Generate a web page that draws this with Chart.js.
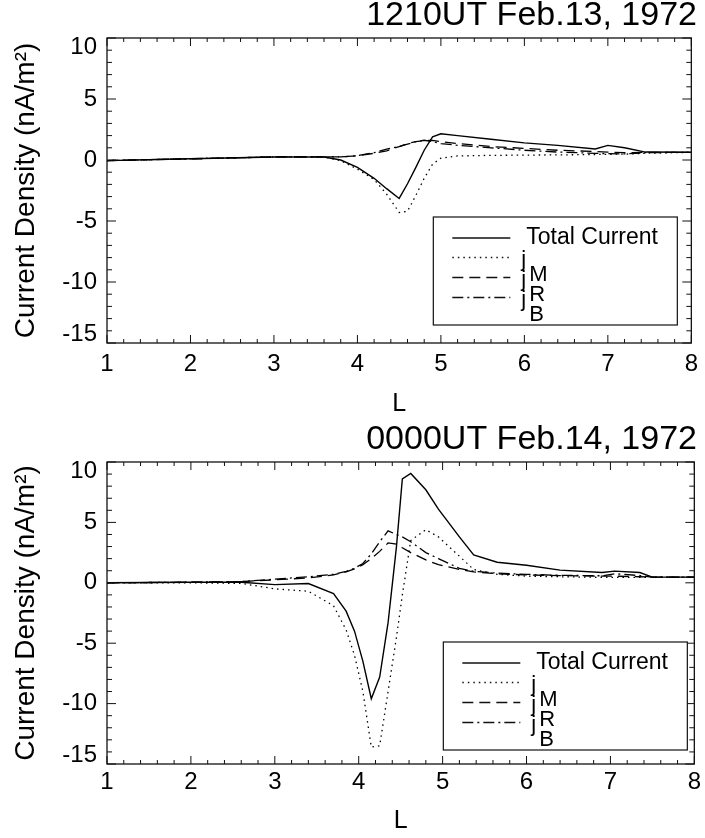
<!DOCTYPE html>
<html>
<head>
<meta charset="utf-8">
<script src="https://cdn.jsdelivr.net/npm/chart.js@4.4.0/dist/chart.umd.min.js"></script>
<style>
body { margin: 0; background: #fff; }
.panel { position: absolute; left: 0; width: 705px; }
#top { top: 0; height: 420px; }
#bottom { top: 420px; height: 418px; }
</style>
</head>
<body>
<div class="panel" id="top"><canvas id="c1"></canvas></div>
<div class="panel" id="bottom"><canvas id="c2"></canvas></div>
<script>
const FONT = "'Liberation Sans', Arial, Helvetica, sans-serif";

const xTicks = [1, 2, 3, 4, 5, 6, 7, 8];
const yTicks = [10, 5, 0, -5, -10, -15];
const seriesLabels = ['Total Current', 'jM', 'jR', 'jB'];

// 1210UT Feb.13, 1972
const topL     = [1, 2, 3, 3.6, 3.8, 4.0, 4.2, 4.35, 4.5, 4.6, 4.7, 4.8, 4.9, 5.0, 5.2, 5.6, 6.0, 6.4, 6.85, 7.0, 7.2, 7.45, 8];
const topTotal = [-0.05, 0.1, 0.25, 0.25, 0.0, -0.6, -1.5, -2.35, -3.15, -1.95, -0.6, 0.8, 1.9, 2.15, 2.0, 1.7, 1.4, 1.2, 0.9, 1.2, 1.0, 0.65, 0.63];
const topJM    = [-0.05, 0.1, 0.25, 0.25, -0.05, -0.75, -1.6, -2.8, -4.3, -4.2, -2.9, -1.5, -0.35, 0.15, 0.33, 0.38, 0.4, 0.42, 0.45, 0.47, 0.48, 0.55, 0.63];
const topJR    = [-0.05, 0.1, 0.25, 0.25, 0.25, 0.35, 0.55, 0.75, 1.1, 1.35, 1.5, 1.6, 1.6, 1.5, 1.35, 1.1, 0.95, 0.8, 0.7, 0.65, 0.6, 0.62, 0.63];
const topJB    = [-0.05, 0.1, 0.25, 0.25, 0.25, 0.35, 0.6, 0.9, 1.1, 1.3, 1.5, 1.62, 1.5, 1.35, 1.2, 1.0, 0.8, 0.65, 0.55, 0.52, 0.5, 0.6, 0.63];

// 0000UT Feb.14, 1972
const botL     = [1, 2, 2.6, 3.0, 3.4, 3.7, 3.85, 3.95, 4.05, 4.15, 4.25, 4.35, 4.45, 4.52, 4.62, 4.8, 4.95, 5.2, 5.37, 5.65, 6.0, 6.4, 6.9, 7.05, 7.35, 7.5, 8];
const botTotal = [0, 0.05, 0.05, -0.15, -0.06, -0.9, -2.35, -4.0, -6.5, -9.6, -7.8, -3.3, 3.0, 8.6, 9.05, 7.7, 6.1, 3.8, 2.3, 1.7, 1.45, 1.05, 0.85, 0.97, 0.85, 0.47, 0.47];
const botJM    = [0, 0, -0.05, -0.5, -0.7, -1.9, -3.9, -6.0, -9.0, -13.6, -13.5, -9.0, -4.5, -1.0, 3.5, 4.4, 3.8, 2.2, 1.1, 0.7, 0.55, 0.5, 0.45, 0.45, 0.45, 0.47, 0.47];
const botJR    = [0, 0.05, 0.1, 0.25, 0.4, 0.65, 0.9, 1.15, 1.5, 2.0, 2.6, 3.3, 3.2, 2.9, 2.5, 1.9, 1.5, 1.1, 0.9, 0.75, 0.65, 0.6, 0.55, 0.55, 0.5, 0.47, 0.47];
const botJB    = [0, 0.05, 0.1, 0.3, 0.5, 0.7, 0.95, 1.2, 1.6, 2.4, 3.4, 4.3, 4.0, 3.8, 3.4, 2.5, 2.0, 1.2, 0.95, 0.8, 0.7, 0.62, 0.58, 0.75, 0.6, 0.47, 0.47];

const pts = (xs, ys) => xs.map((x, i) => ({x: x, y: ys[i]}));

// box, inward ticks, y labels and the legend, all placed from the scales
const framePlugin = {
	id: 'frame',
	afterDatasetsDraw(chart, args, opts) {
		const {ctx, chartArea: a, scales: {x, y}} = chart;
		ctx.save();
		ctx.strokeStyle = '#111';
		ctx.lineWidth = 1.3;
		ctx.strokeRect(a.left, a.top, a.right - a.left, a.bottom - a.top);

		ctx.lineWidth = 1;
		ctx.beginPath();
		const x0 = xTicks[0], nx = (xTicks[xTicks.length - 1] - x0) * 5;
		for (let i = 0; i <= nx; i++) {
			const px = x.getPixelForValue(x0 + i * 0.2);
			const len = i % 5 === 0 ? 8 : 4;
			ctx.moveTo(px, a.bottom); ctx.lineTo(px, a.bottom - len);
			ctx.moveTo(px, a.top); ctx.lineTo(px, a.top + len);
		}
		for (let v = y.min; v <= y.max; v++) {
			const py = y.getPixelForValue(v);
			const len = v % 5 === 0 ? 9 : 5;
			ctx.moveTo(a.left, py); ctx.lineTo(a.left + len, py);
			ctx.moveTo(a.right, py); ctx.lineTo(a.right - len, py);
		}
		ctx.stroke();

		// y labels, the end ones pulled inside the frame like the original
		ctx.fillStyle = '#000';
		ctx.font = '24px ' + FONT;
		ctx.textAlign = 'right';
		ctx.textBaseline = 'middle';
		yTicks.forEach(v => {
			let py = y.getPixelForValue(v);
			py = Math.min(Math.max(py, a.top + 9), a.bottom - 9);
			ctx.fillText(String(v), a.left - 10, py);
		});

		// legend
		const lg = opts.legend;
		const bw = 244, bh = 108;
		const L0 = a.right - lg.right - bw, T0 = a.bottom - lg.bottom - bh;
		ctx.fillStyle = '#fff';
		ctx.fillRect(L0, T0, bw, bh);
		ctx.lineWidth = 1.2;
		ctx.strokeRect(L0, T0, bw, bh);
		const rows = [21, 40.5, 60.5, 80.5];
		chart.data.datasets.forEach((ds, i) => {
			const ly = T0 + rows[i];
			ctx.beginPath();
			ctx.setLineDash(ds.borderDash);
			ctx.lineWidth = ds.borderWidth;
			ctx.moveTo(L0 + 19, ly); ctx.lineTo(L0 + 77, ly);
			ctx.stroke();
			ctx.setLineDash([]);
			ctx.fillStyle = '#000';
			ctx.textAlign = 'left';
			if (ds.label.length > 2) {
				ctx.font = '23px ' + FONT;
				ctx.textBaseline = 'middle';
				ctx.fillText(ds.label, L0 + 93, ly);
			} else {
				ctx.font = '22px ' + FONT;
				ctx.textBaseline = 'alphabetic';
				ctx.fillText(ds.label[0], L0 + 88, ly + 8.5);
				ctx.fillText(ds.label[1], L0 + 96, ly + 23.5);
			}
		});
		ctx.restore();
	}
};

function makeChart(id, title, L, total, jm, jr, jb, geo) {
	return new Chart(document.getElementById(id), {
		type: 'line',
		data: {
			datasets: [
				{label: seriesLabels[0], data: pts(L, total), borderColor: '#000', borderWidth: 1.4, borderDash: []},
				{label: seriesLabels[1], data: pts(L, jm), borderColor: '#000', borderWidth: 1.3, borderDash: [1.5, 4]},
				{label: seriesLabels[2], data: pts(L, jr), borderColor: '#000', borderWidth: 1.3, borderDash: [11, 6]},
				{label: seriesLabels[3], data: pts(L, jb), borderColor: '#000', borderWidth: 1.3, borderDash: [11, 4, 2, 4]}
			]
		},
		options: {
			responsive: true,
			maintainAspectRatio: false,
			animation: false,
			layout: {padding: {left: 0, right: 8, top: 0, bottom: 0}},
			elements: {point: {radius: 0}, line: {tension: 0, fill: false}},
			plugins: {
				legend: {display: false},
				tooltip: {enabled: false},
				title: {
					display: true, text: title, align: 'end', color: '#000',
					font: {family: FONT, size: 34, weight: 'normal', lineHeight: 0.9},
					padding: {top: geo.titleTop, bottom: geo.titleBottom}
				},
				frame: {legend: geo.legend}
			},
			scales: {
				x: {
					type: 'linear', min: 1, max: 8,
					afterBuildTicks: s => { s.ticks = xTicks.map(v => ({value: v})); },
					grid: {display: false, drawTicks: false},
					border: {display: false},
					ticks: {color: '#000', padding: geo.xPad, maxRotation: 0, autoSkip: false, font: {family: FONT, size: 24}},
					title: {display: true, text: 'L', color: '#000', font: {family: FONT, size: 25}, padding: {top: 0, bottom: geo.lPad}},
					afterFit: s => { s.height = geo.xH; }
				},
				y: {
					min: -15, max: 10,
					ticks: {display: false},
					grid: {display: false, drawTicks: false},
					border: {display: false},
					title: {display: true, text: 'Current Density (nA/m²)', color: '#000', font: {family: FONT, size: 28}, padding: {top: 9, bottom: 0}},
					afterFit: s => { s.width = 107; }
				}
			}
		},
		plugins: [framePlugin]
	});
}

makeChart('c1', '1210UT Feb.13, 1972', topL, topTotal, topJM, topJR, topJB,
	{titleTop: 0.5, titleBottom: 6.9, xH: 77, xPad: 7, lPad: 1, legend: {right: 14, bottom: 18}});
makeChart('c2', '0000UT Feb.14, 1972', botL, botTotal, botJM, botJR, botJB,
	{titleTop: 4.7, titleBottom: 6.7, xH: 74, xPad: 4, lPad: 2, legend: {right: 7, bottom: 14}});
</script>
</body>
</html>
